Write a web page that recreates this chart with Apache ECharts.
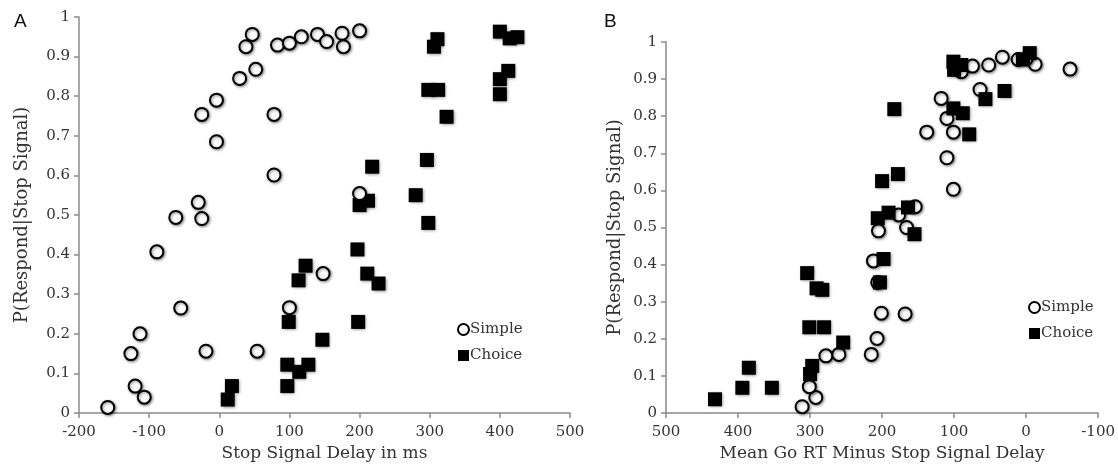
<!DOCTYPE html>
<html>
<head>
<meta charset="utf-8">
<script src="https://cdn.jsdelivr.net/npm/echarts@6/dist/echarts.min.js"></script>
<style>html,body{margin:0;padding:0;background:#fff}#c{width:1118px;height:472px}</style>
</head>
<body>
<div id="c"></div>
<script>
// Panel A: Stop Signal Delay (ms) vs P(Respond|Stop Signal)
const simpleA = [
  [-159,0.014],[-126,0.150],[-120,0.068],[-113,0.200],[-107,0.040],[-89,0.407],
  [-62,0.494],[-55,0.265],[-30,0.532],[-25,0.491],[-25,0.754],[-19,0.156],
  [-4,0.685],[-4,0.790],[29,0.845],[38,0.925],[47,0.956],[52,0.868],[54,0.156],
  [78,0.754],[78,0.601],[83,0.929],[100,0.934],[100,0.266],[117,0.950],[140,0.956],
  [148,0.352],[153,0.938],[175,0.959],[177,0.925],[200,0.965],[200,0.554]
];
const choiceA = [
  [12,0.034],[18,0.068],[97,0.068],[97,0.122],[114,0.104],[127,0.122],[147,0.185],
  [99,0.230],[198,0.230],[113,0.335],[123,0.372],[211,0.352],[227,0.327],[197,0.413],
  [200,0.525],[212,0.536],[218,0.622],[280,0.550],[298,0.480],[296,0.639],[324,0.748],
  [298,0.816],[312,0.816],[306,0.925],[311,0.944],[400,0.805],[400,0.843],[412,0.864],
  [400,0.963],[414,0.946],[425,0.949]
];
// Panel B: Mean Go RT minus Stop Signal Delay vs P(Respond|Stop Signal)
const simpleB = [
  [311,0.017],[292,0.042],[301,0.071],[278,0.154],[260,0.158],[215,0.158],[207,0.201],
  [201,0.269],[168,0.267],[206,0.352],[212,0.410],[205,0.491],[166,0.500],[177,0.534],
  [154,0.556],[101,0.603],[110,0.688],[138,0.757],[101,0.757],[110,0.794],[118,0.848],
  [64,0.872],[90,0.920],[74.5,0.935],[52,0.938],[33,0.959],[11,0.953],[-12.5,0.940],
  [-61,0.927],[0,0.955]
];
const choiceB = [
  [432,0.037],[394,0.068],[385,0.122],[353,0.068],[300,0.105],[297,0.127],[301,0.231],
  [280.5,0.231],[304,0.377],[291,0.336],[283,0.332],[254,0.190],[203,0.352],[198,0.415],
  [206,0.525],[191,0.540],[164,0.554],[155,0.482],[200,0.625],[178,0.644],[183,0.819],
  [101,0.821],[88,0.808],[79,0.751],[56.5,0.846],[30,0.868],[101,0.947],[100,0.925],
  [90,0.938],[-5,0.970],[4.5,0.953]
];
const seriesNames = ['Simple','Choice'];
const panelLabels = ['A','B'];
const xNames = ['Stop Signal Delay in ms','Mean Go RT Minus Stop Signal Delay'];
const yName = 'P(Respond|Stop Signal)';

const serif = 'DejaVu Serif';
const axisColor = '#8a8a8a';
const textColor = '#333';

function xAxis(idx, min, max, inverse, name){
  return {
    type:'value', gridIndex:idx, min:min, max:max, interval:100, inverse:inverse,
    name:name, nameLocation:'middle', nameGap:32,
    nameTextStyle:{fontFamily:serif, fontSize:17, color:textColor},
    axisLine:{onZero:false, lineStyle:{color:axisColor, width:1.5}},
    axisTick:{length:5, lineStyle:{color:axisColor, width:1.5}},
    axisLabel:{fontFamily:serif, fontSize:15, color:textColor, margin:12},
    splitLine:{show:false}
  };
}
function yAxis(idx, gap){
  return {
    type:'value', gridIndex:idx, min:0, max:1, interval:0.1,
    name:yName, nameLocation:'middle', nameGap:gap,
    nameTextStyle:{fontFamily:serif, fontSize:18, color:textColor},
    axisLine:{show:true, onZero:false, lineStyle:{color:axisColor, width:1.5}},
    axisTick:{show:true, length:5, lineStyle:{color:axisColor, width:1.5}},
    axisLabel:{fontFamily:serif, fontSize:15, color:textColor, margin:9,
      formatter:v=>String(+v.toFixed(1))},
    splitLine:{show:false}
  };
}
const shadow = {shadowBlur:3, shadowColor:'rgba(0,0,0,0.45)', shadowOffsetX:1, shadowOffsetY:1};
function simpleSeries(idx, data, z){
  return {name:seriesNames[0], type:'scatter', xAxisIndex:idx, yAxisIndex:idx, data:data,
    symbol:'circle', symbolSize:13, z:z,
    itemStyle:Object.assign({color:'#fff', borderColor:'#000', borderWidth:2, opacity:1}, shadow)};
}
function choiceSeries(idx, data, z){
  return {name:seriesNames[1], type:'scatter', xAxisIndex:idx, yAxisIndex:idx, data:data,
    symbol:'rect', symbolSize:14, z:z,
    itemStyle:Object.assign({color:'#000', opacity:1}, shadow)};
}
function legend(left, top){
  return {left:left, top:top, orient:'vertical', itemGap:11, itemWidth:11, itemHeight:11,
    data:seriesNames,
    textStyle:{fontFamily:serif, fontSize:15, color:textColor, padding:[0,0,0,-4]}};
}
const chart = echarts.init(document.getElementById('c'), null, {renderer:'canvas'});
chart.setOption({
  animation:false,
  backgroundColor:'#fff',
  grid:[
    {left:79, width:491, top:17, bottom:59},
    {left:666, right:17, top:42, bottom:59}
  ],
  xAxis:[xAxis(0,-200,500,false,xNames[0]), xAxis(1,-100,500,true,xNames[1])],
  yAxis:[yAxis(0,48), yAxis(1,42)],
  legend:[legend(452,317), legend(1023,295)],
  graphic:[
    {type:'text', left:14, top:12, style:{text:panelLabels[0], font:'19px "Liberation Sans"', fill:'#111'}},
    {type:'text', left:604, top:12, style:{text:panelLabels[1], font:'19px "Liberation Sans"', fill:'#111'}}
  ],
  series:[
    choiceSeries(0, choiceA, 2), simpleSeries(0, simpleA, 3),
    simpleSeries(1, simpleB, 2), choiceSeries(1, choiceB, 3)
  ]
});
</script>
</body>
</html>
